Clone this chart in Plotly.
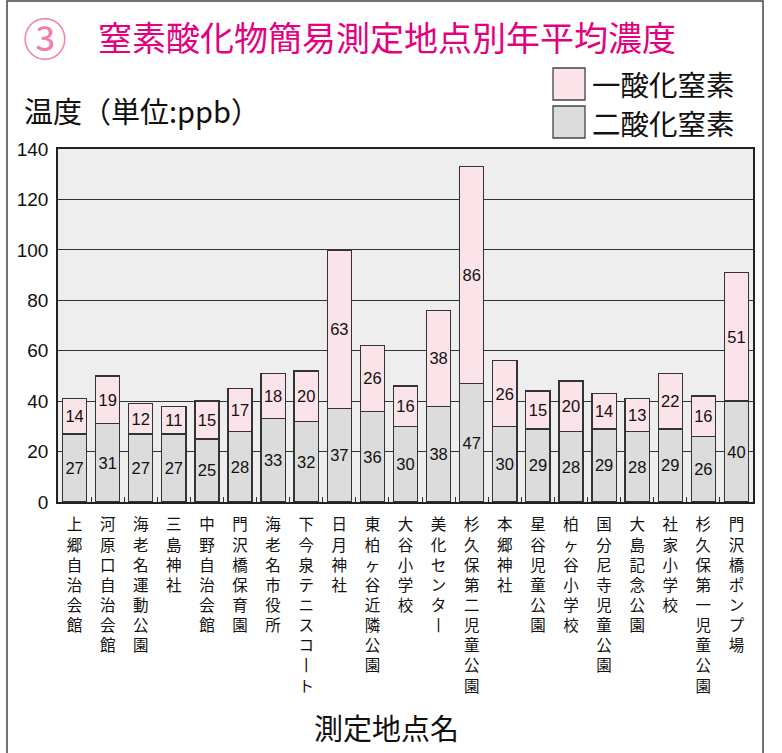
import plotly.graph_objects as go

categories = ["上郷自治会館", "河原口自治会館", "海老名運動公園", "三島神社", "中野自治会館",
              "門沢橋保育園", "海老名市役所", "下今泉テニスコート", "日月神社", "東柏ヶ谷近隣公園",
              "大谷小学校", "美化センター", "杉久保第二児童公園", "本郷神社", "星谷児童公園",
              "柏ヶ谷小学校", "国分尼寺児童公園", "大島記念公園", "社家小学校", "杉久保第一児童公園",
              "門沢橋ポンプ場"]
no2_values = [27, 31, 27, 27, 25, 28, 33, 32, 37, 36, 30, 38, 47, 30, 29, 28, 29, 28, 29, 26, 40]
no_values = [14, 19, 12, 11, 15, 17, 18, 20, 63, 26, 16, 38, 86, 26, 15, 20, 14, 13, 22, 16, 51]
y_ticks = [0, 20, 40, 60, 80, 100, 120, 140]

W_FIG, H_FIG = 782, 753
ML, MR, MT, MB = 58, 29, 149, 251
PW = W_FIG - ML - MR
PH = H_FIG - MT - MB


def xp(px):
    return (px - ML) / PW


def yp(py):
    return (H_FIG - MB - py) / PH


JP = "Noto Sans CJK JP, Noto Sans, sans-serif"
NUM = "Liberation Sans, Arial, sans-serif"

# vertical (one character per line) tick labels
vertical_labels = ["<br>".join("丨" if ch == "ー" else ch for ch in c) for c in categories]

fig = go.Figure()
fig.add_bar(x=categories, y=no2_values, name="二酸化窒素",
            marker=dict(color="#dcdcdc", line=dict(color="#333333", width=1.3)),
            text=[str(v) for v in no2_values], textposition="inside",
            insidetextanchor="middle", textangle=0, constraintext="none",
            textfont=dict(family=NUM, size=16.5, color="#111111"))
fig.add_bar(x=categories, y=no_values, name="一酸化窒素",
            marker=dict(color="#fbe3ea", line=dict(color="#333333", width=1.3)),
            text=[str(v) for v in no_values], textposition="inside",
            insidetextanchor="middle", textangle=0, constraintext="none",
            textfont=dict(family=NUM, size=16.5, color="#111111"))

annotations = [
    dict(x=xp(45), y=yp(37), xref="paper", yref="paper", text="③",
         showarrow=False, xanchor="center", yanchor="middle",
         font=dict(family=JP, size=44, color="#f07faa")),
    dict(x=xp(96), y=yp(37), xref="paper", yref="paper",
         text="窒素酸化物簡易測定地点別年平均濃度",
         showarrow=False, xanchor="left", yanchor="middle",
         font=dict(family=JP, size=34, color="#e4007f")),
    dict(x=xp(22), y=yp(110), xref="paper", yref="paper",
         text="温度（単位:ppb）", showarrow=False,
         xanchor="left", yanchor="middle",
         font=dict(family=JP, size=29, color="#111111")),
    dict(x=xp(590), y=yp(84), xref="paper", yref="paper", text="一酸化窒素",
         showarrow=False, xanchor="left", yanchor="middle",
         font=dict(family=JP, size=28.5, color="#111111")),
    dict(x=xp(590), y=yp(122), xref="paper", yref="paper", text="二酸化窒素",
         showarrow=False, xanchor="left", yanchor="middle",
         font=dict(family=JP, size=28.5, color="#111111")),
    dict(x=xp(386), y=yp(727), xref="paper", yref="paper", text="測定地点名",
         showarrow=False, xanchor="center", yanchor="middle",
         font=dict(family=JP, size=29, color="#111111")),
]

shapes = [
    dict(type="rect", xref="paper", yref="paper", x0=xp(7), x1=xp(763), y0=yp(1), y1=yp(760),
         line=dict(color="#444444", width=1.5), fillcolor="rgba(0,0,0,0)", layer="below"),
    dict(type="rect", xref="paper", yref="paper", x0=xp(553), x1=xp(585), y0=yp(68), y1=yp(100),
         line=dict(color="#444444", width=1.3), fillcolor="#fbe3ea"),
    dict(type="rect", xref="paper", yref="paper", x0=xp(553), x1=xp(585), y0=yp(106), y1=yp(138),
         line=dict(color="#444444", width=1.3), fillcolor="#dcdcdc"),
]

fig.update_layout(
    width=W_FIG, height=H_FIG,
    margin=dict(l=ML, r=MR, t=MT, b=MB, pad=0),
    barmode="stack", bargap=0.27, showlegend=False,
    paper_bgcolor="white", plot_bgcolor="#eeeeee",
    annotations=annotations, shapes=shapes,
    xaxis=dict(range=[-0.5, len(categories) - 0.5],
               tickmode="array", tickvals=categories, ticktext=vertical_labels,
               tickangle=0, automargin=False, ticklabelstandoff=8,
               tickfont=dict(family=JP, size=15.5, color="#111111"),
               ticks="inside", tickson="boundaries", ticklen=5, tickcolor="#333333",
               showline=True, linecolor="#222222", linewidth=1.5, mirror=True,
               showgrid=False, fixedrange=True),
    yaxis=dict(range=[0, 140], tickvals=y_ticks, showgrid=True, gridcolor="#333333",
               gridwidth=1, showline=True, linecolor="#222222", linewidth=1.5,
               mirror=True, zeroline=False, ticks="", ticklabelstandoff=4, automargin=False,
               tickfont=dict(family=NUM, size=19, color="#111111"), fixedrange=True),
)

fig.write_html("out.html", config={"displayModeBar": False},
               post_script="document.body.style.margin='0';document.body.style.padding='0';")
